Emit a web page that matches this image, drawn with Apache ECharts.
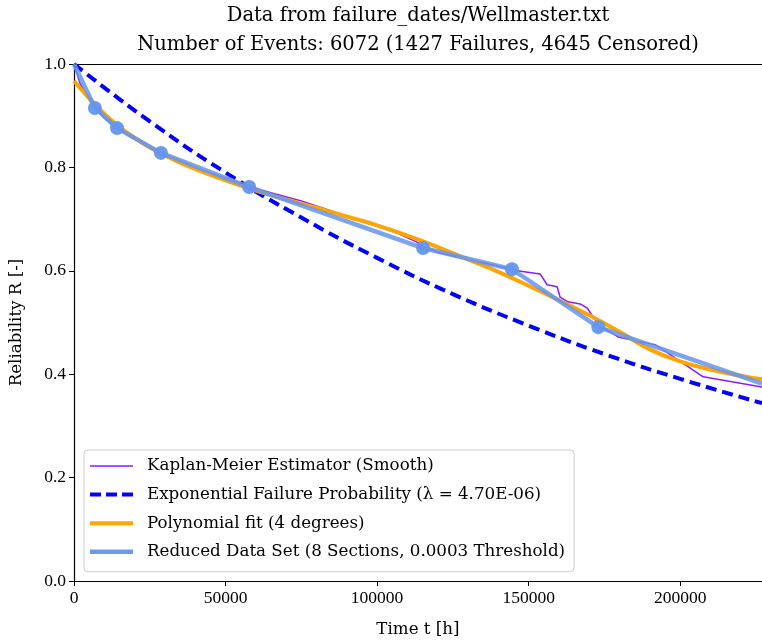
<!DOCTYPE html>
<html>
<head>
<meta charset="utf-8">
<script src="https://cdn.jsdelivr.net/npm/echarts@6/dist/echarts.min.js"></script>
<style>
  html, body { margin: 0; padding: 0; background: #ffffff; }
  #chart { width: 762px; height: 641px; }
</style>
</head>
<body>
<div id="chart"></div>
<script>
// Titles and labels
const titleLine1 = 'Data from failure_dates/Wellmaster.txt';
const titleLine2 = 'Number of Events: 6072 (1427 Failures, 4645 Censored)';
const xAxisName = 'Time t [h]';
const yAxisName = 'Reliability R [-]';
const seriesNames = [
  'Kaplan-Meier Estimator (Smooth)',
  'Exponential Failure Probability (\u03bb = 4.70E-06)',
  'Polynomial fit (4 degrees)',
  'Reduced Data Set (8 Sections, 0.0003 Threshold)'
];

// Axis ranges
const xMin = 0, xMax = 227000, xStep = 50000;
const yMin = 0, yMax = 1, yStep = 0.2;

// Kaplan-Meier estimate (time in hours, reliability)
const kmTime = [0, 2000, 4000, 7000, 10000, 14000, 20000, 29000, 40000, 58000, 75000, 91000,
  100000, 106600, 113000, 116000, 120000, 131000, 144600, 146200, 153800, 156100, 159400,
  160400, 163000, 167000, 169300, 171300, 173000, 176000, 179500, 191700, 194400, 207600, 227000];
const kmRel = [1.0, 0.962, 0.942, 0.916, 0.896, 0.876, 0.855, 0.828, 0.800, 0.762, 0.735, 0.704,
  0.686, 0.673, 0.656, 0.645, 0.636, 0.621, 0.603, 0.600, 0.594, 0.573, 0.569,
  0.549, 0.540, 0.536, 0.528, 0.511, 0.495, 0.485, 0.472, 0.457, 0.447, 0.395, 0.375];

// Exponential model curve
const expTime = [0, 25000, 50000, 75000, 100000, 125000, 150000, 175000, 200000, 227000];
const expRel = [1.0, 0.889, 0.790, 0.703, 0.625, 0.555, 0.494, 0.439, 0.391, 0.344];

// Polynomial fit curve
const polyTime = [0, 10000, 20000, 30000, 40000, 50000, 60000, 70000, 80000, 90000, 100000,
  110000, 120000, 130000, 140000, 150000, 160000, 170000, 180000, 190000, 200000, 210000, 220000, 227000];
const polyRel = [0.967, 0.904, 0.857, 0.823, 0.797, 0.775, 0.755, 0.738, 0.722, 0.705, 0.688,
  0.668, 0.646, 0.622, 0.598, 0.571, 0.543, 0.514, 0.482, 0.448, 0.425, 0.409, 0.397, 0.390];

// Reduced data set breakpoints
const reducedTime = [0, 6900, 14200, 28700, 57800, 115200, 144500, 173000, 227000];
const reducedRel = [1.0, 0.915, 0.876, 0.828, 0.762, 0.644, 0.603, 0.491, 0.382];

const pairs = (xs, ys) => xs.map((x, i) => [x, ys[i]]);

const TEXT_FONT = 'DejaVu Serif';
const NUM_FONT = 'Liberation Serif';
const chart = echarts.init(document.getElementById('chart'), null, { renderer: 'canvas' });

const reducedData = reducedTime.map((t, i) => {
  const last = reducedTime.length - 1;
  if (i === 0 || i === last) return { value: [t, reducedRel[i]], symbol: 'none' };
  return [t, reducedRel[i]];
});

chart.setOption({
  animation: false,
  backgroundColor: '#ffffff',
  title: {
    text: titleLine1 + '\n' + titleLine2,
    left: 418,
    top: 1,
    padding: 0,
    textAlign: 'center',
    textStyle: { fontFamily: TEXT_FONT, fontSize: 19.5, fontWeight: 'normal', color: '#000', lineHeight: 29 }
  },
  grid: { left: 74, right: 0, top: 64, bottom: 60, containLabel: false, outerBoundsMode: 'none' },
  legend: {
    orient: 'vertical',
    left: 84,
    top: 450,
    padding: [6, 9, 10, 6],
    itemGap: 8.6,
    itemWidth: 43,
    itemHeight: 14,
    backgroundColor: 'rgba(255,255,255,0.85)',
    borderColor: '#cccccc',
    borderWidth: 1,
    borderRadius: 4,
    textStyle: { fontFamily: TEXT_FONT, fontSize: 16.7, color: '#000', lineHeight: 20, padding: [0, 0, 0, 9] },
    data: [
      { name: seriesNames[0], icon: 'path://M0,0H43V1.6H0Z' },
      { name: seriesNames[1], icon: 'path://M0,0H11V4H0Z M16,0H27V4H16Z M32,0H43V4H32Z' },
      { name: seriesNames[2], icon: 'path://M0,0H43V4H0Z' },
      { name: seriesNames[3], icon: 'path://M0,0H43V4.5H0Z' }
    ]
  },
  xAxis: [{
    type: 'value',
    min: xMin, max: xMax, interval: xStep,
    name: xAxisName, nameLocation: 'middle', nameGap: 40,
    nameTextStyle: { fontFamily: TEXT_FONT, fontSize: 16.7, color: '#000' },
    axisLine: { show: true, onZero: false, lineStyle: { color: '#000', width: 1.2 } },
    axisTick: { show: true, inside: false, length: 5, lineStyle: { color: '#000', width: 1 } },
    axisLabel: { fontFamily: NUM_FONT, fontSize: 17.5, color: '#000', margin: 8, showMaxLabel: false,
      formatter: v => String(v) },
    splitLine: { show: false }
  }, {
    type: 'value', position: 'top',
    min: xMin, max: xMax,
    axisLine: { show: true, onZero: false, lineStyle: { color: '#000', width: 1.2 } },
    axisTick: { show: false }, axisLabel: { show: false }, splitLine: { show: false }
  }],
  yAxis: {
    type: 'value',
    min: yMin, max: yMax, interval: yStep,
    name: yAxisName, nameLocation: 'middle', nameGap: 49, nameRotate: 90,
    nameTextStyle: { fontFamily: TEXT_FONT, fontSize: 16.7, color: '#000' },
    axisLine: { show: true, onZero: false, lineStyle: { color: '#000', width: 1.2 } },
    axisTick: { show: true, inside: false, length: 5, lineStyle: { color: '#000', width: 1 } },
    axisLabel: { fontFamily: NUM_FONT, fontSize: 17.5, color: '#000', margin: 8,
      formatter: v => v.toFixed(1) },
    splitLine: { show: false }
  },
  series: [
    {
      name: seriesNames[0], type: 'line', xAxisIndex: 0,
      data: pairs(kmTime, kmRel), showSymbol: false, symbol: 'none',
      color: '#8c1aff',
      lineStyle: { color: '#8c1aff', width: 1.5 }, itemStyle: { color: '#8c1aff' }, z: 2
    },
    {
      name: seriesNames[1], type: 'line', xAxisIndex: 0,
      data: pairs(expTime, expRel), symbol: 'none', smooth: true,
      color: '#0000ff',
      lineStyle: { color: '#0000ff', width: 4, type: [11, 6], cap: 'butt' }, itemStyle: { color: '#0000ff' }, z: 3
    },
    {
      name: seriesNames[2], type: 'line', xAxisIndex: 0,
      data: pairs(polyTime, polyRel), symbol: 'none', smooth: true,
      color: '#ffa500',
      lineStyle: { color: '#ffa500', width: 4 }, itemStyle: { color: '#ffa500' }, z: 4
    },
    {
      name: seriesNames[3], type: 'line', xAxisIndex: 0,
      data: reducedData, symbol: 'circle', symbolSize: 14, showSymbol: true,
      color: '#6495ed',
      lineStyle: { color: '#6495ed', width: 4.5, opacity: 0.85 },
      itemStyle: { color: '#6495ed', opacity: 0.95 }, z: 5
    }
  ]
});
</script>
</body>
</html>
